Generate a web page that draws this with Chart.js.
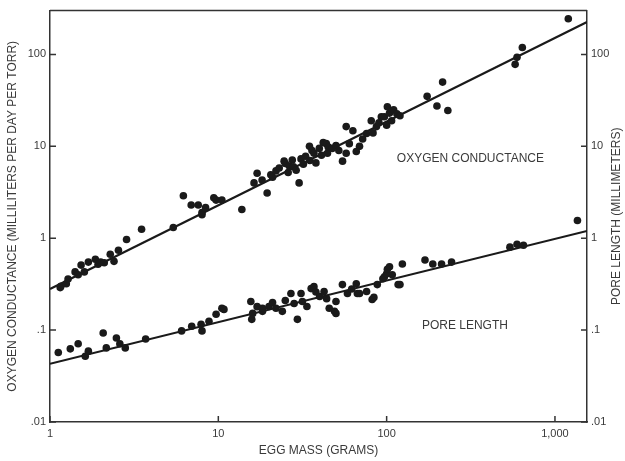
<!DOCTYPE html>
<html>
<head>
<meta charset="utf-8">
<script src="https://cdn.jsdelivr.net/npm/chart.js@4"></script>
<style>
  html, body { margin: 0; padding: 0; background: #fff; }
  #wrap { width: 625px; height: 461px; }
</style>
</head>
<body>
<div id="wrap"><canvas id="eggChart" width="625" height="461"></canvas></div>
<script>
// egg mass (g) vs oxygen conductance (ml / day / torr)
const massO2 = [1.15, 1.16, 1.25, 1.28, 1.41, 1.47, 1.53, 1.6, 1.69, 1.86, 1.93, 2.0, 2.1, 2.28, 2.4, 2.55, 2.85, 3.5,
  5.4, 6.2, 6.9, 7.6, 8.0, 8.4, 8.0, 9.4, 9.7, 10.5, 13.8, 16.3, 17, 18.2, 19.5, 20.5, 21, 22, 23, 24.6, 25, 26,
  26.4, 27.5, 28, 29, 30.2, 31, 32, 33, 34.8, 35, 36, 37, 38, 39.8, 41, 42, 43.8, 44.5, 45, 47.5, 50, 52, 54.7,
  57.5, 60, 57.5, 63, 69, 66, 72, 76, 81, 83, 87, 90, 93, 97, 100, 101, 104, 107, 110, 115, 120,
  174, 199, 215, 231, 580, 595, 640, 1200];
const o2 = [0.29, 0.30, 0.32, 0.36, 0.43, 0.40, 0.51, 0.43, 0.55, 0.59, 0.52, 0.55, 0.54, 0.67, 0.56, 0.74, 0.97, 1.25,
  1.31, 2.9, 2.3, 2.3, 1.9, 2.15, 1.8, 2.75, 2.6, 2.6, 2.05, 4.0, 5.1, 4.3, 3.1, 4.9, 4.6, 5.4, 5.8, 6.9, 6.5, 5.2,
  6.1, 7.1, 6.0, 5.5, 4.0, 7.3, 6.4, 7.8, 10, 7.0, 9.0, 8.4, 6.6, 9.5, 8.0, 11, 10.7, 8.4, 9.8, 9.5, 10.2, 9.0, 6.9,
  8.4, 10.7, 16.4, 14.8, 10, 8.8, 12, 13.8, 19, 14, 16.4, 18, 21, 21, 17, 27, 23, 19, 25, 22.6, 21.5,
  35, 27.5, 50, 24.5, 78, 93, 119, 245];

// egg mass (g) vs pore length (mm)
const massPore = [1.12, 1.32, 1.47, 1.62, 1.69, 2.07, 2.16, 2.48, 2.6, 2.8, 3.7, 6.05, 6.95, 7.9, 8.0, 8.8, 9.7, 10.5,
  10.8, 15.6, 15.8, 16, 17, 18.3, 18.3, 20, 21, 22, 24, 25, 27, 28.2, 29.5, 31, 31.6, 33.6, 35.6, 37, 38, 40, 42.5, 44, 45.6, 49, 50,
  50, 54.6, 58.5, 62, 66, 67, 69, 76, 82, 84, 88, 95, 97, 100, 101, 104, 108, 117, 120, 124,
  169, 188, 212, 243, 540, 595, 650, 1360];
const pore = [0.057, 0.0625, 0.071, 0.052, 0.059, 0.093, 0.064, 0.082, 0.071, 0.064, 0.08, 0.098, 0.11, 0.116, 0.098, 0.125, 0.149, 0.173,
  0.168, 0.205, 0.131, 0.152, 0.18, 0.16, 0.173, 0.181, 0.2, 0.173, 0.16, 0.21, 0.25, 0.195, 0.131, 0.25, 0.205, 0.181, 0.283, 0.297, 0.26, 0.232, 0.263, 0.22, 0.173, 0.16, 0.152,
  0.205, 0.313, 0.25, 0.28, 0.32, 0.25, 0.25, 0.263, 0.215, 0.227, 0.313, 0.362, 0.38, 0.41, 0.46, 0.49, 0.40, 0.313, 0.313, 0.525,
  0.58, 0.525, 0.525, 0.55, 0.80, 0.86, 0.84, 1.56];

// fitted lines, end points
const fitMass = [1, 1550];
const o2Fit = [0.28, 225];
const poreFit = [0.043, 1.2];

const yTicks = [0.01, 0.1, 1, 10, 100];
const yTickLabels = ['.01', '.1', '1', '10', '100'];
const xTicks = [1, 10, 100, 1000];
const xTickLabels = ['1', '10', '100', '1,000'];

const ink = '#1a1a1a';
const textGray = '#3a3a3a';
const fontFamily = '"Liberation Sans", Arial, sans-serif';

const toPts = (xs, ys) => xs.map((x, i) => ({ x: x, y: ys[i] }));

// inward tick marks, top frame line, right title and the two series labels
const decorPlugin = {
  id: 'decor',
  afterDatasetsDraw(chart) {
    const { ctx, chartArea: a, scales } = chart;
    ctx.save();
    ctx.strokeStyle = '#333';
    ctx.lineWidth = 1.5;
    ctx.beginPath();
    ctx.moveTo(a.left, a.top);
    ctx.lineTo(a.right, a.top);
    xTicks.forEach(v => {
      const px = scales.x.getPixelForValue(v);
      ctx.moveTo(px, a.bottom);
      ctx.lineTo(px, a.bottom - 6);
    });
    yTicks.forEach(v => {
      const py = scales.y.getPixelForValue(v);
      ctx.moveTo(a.left, py);
      ctx.lineTo(a.left + 6, py);
      const py2 = scales.y2.getPixelForValue(v);
      ctx.moveTo(a.right, py2);
      ctx.lineTo(a.right - 6, py2);
    });
    ctx.stroke();

    ctx.fillStyle = textGray;
    ctx.font = '12px ' + fontFamily;
    ctx.textBaseline = 'middle';
    ctx.textAlign = 'left';
    ctx.fillText('OXYGEN CONDUCTANCE', scales.x.getPixelForValue(115), scales.y.getPixelForValue(7.4));
    ctx.fillText('PORE LENGTH', scales.x.getPixelForValue(162), scales.y.getPixelForValue(0.113));

    ctx.translate(617, (a.top + a.bottom) / 2);
    ctx.rotate(-Math.PI / 2);
    ctx.textAlign = 'center';
    ctx.fillText('PORE LENGTH (MILLIMETERS)', 0, 0);
    ctx.restore();
  }
};

const decadeTicks = values => scale => {
  scale.ticks = values.map(v => ({ value: v }));
};

new Chart(document.getElementById('eggChart'), {
  type: 'scatter',
  data: {
    datasets: [
      {
        label: 'Oxygen conductance',
        data: toPts(massO2, o2),
        pointRadius: 3.8,
        pointBackgroundColor: ink,
        pointBorderWidth: 0
      },
      {
        label: 'Pore length',
        data: toPts(massPore, pore),
        yAxisID: 'y2',
        pointRadius: 3.8,
        pointBackgroundColor: ink,
        pointBorderWidth: 0
      },
      {
        type: 'line',
        label: 'Conductance fit',
        data: toPts(fitMass, o2Fit),
        borderColor: ink,
        borderWidth: 2.2,
        pointRadius: 0,
        fill: false
      },
      {
        type: 'line',
        label: 'Pore length fit',
        data: toPts(fitMass, poreFit),
        yAxisID: 'y2',
        borderColor: ink,
        borderWidth: 2.2,
        pointRadius: 0,
        fill: false
      }
    ]
  },
  options: {
    responsive: false,
    animation: false,
    layout: { padding: { top: 6, left: 0, right: 0, bottom: 0 } },
    plugins: {
      legend: { display: false },
      tooltip: { enabled: false }
    },
    scales: {
      x: {
        type: 'logarithmic',
        min: 1,
        max: 1550,
        afterBuildTicks: decadeTicks(xTicks),
        afterFit: s => { s.height = 39; },
        grid: { display: false, drawTicks: false },
        border: { display: true, color: '#333', width: 1.5 },
        ticks: {
          color: textGray,
          padding: 5,
          autoSkip: false,
          maxRotation: 0,
          font: { family: fontFamily, size: 11 },
          callback: v => xTickLabels[xTicks.indexOf(v)] ?? ''
        },
        title: {
          display: true,
          text: 'EGG MASS (GRAMS)',
          color: textGray,
          padding: { top: 0, bottom: 3 },
          font: { family: fontFamily, size: 12 }
        }
      },
      y: {
        type: 'logarithmic',
        position: 'left',
        min: 0.01,
        max: 300,
        afterBuildTicks: decadeTicks(yTicks),
        afterFit: s => { s.width = 50; },
        grid: { display: false, drawTicks: false },
        border: { display: true, color: '#333', width: 1.5 },
        ticks: {
          color: textGray,
          padding: 4,
          autoSkip: false,
          font: { family: fontFamily, size: 11 },
          callback: v => yTickLabels[yTicks.indexOf(v)] ?? ''
        },
        title: {
          display: true,
          text: 'OXYGEN CONDUCTANCE (MILLILITERS PER DAY PER TORR)',
          color: textGray,
          padding: { top: 5, bottom: 0 },
          font: { family: fontFamily, size: 12 }
        }
      },
      y2: {
        type: 'logarithmic',
        position: 'right',
        min: 0.01,
        max: 300,
        afterBuildTicks: decadeTicks(yTicks),
        afterFit: s => { s.width = 38; },
        grid: { display: false, drawTicks: false },
        border: { display: true, color: '#333', width: 1.5 },
        ticks: {
          color: textGray,
          padding: 4,
          autoSkip: false,
          font: { family: fontFamily, size: 11 },
          callback: v => yTickLabels[yTicks.indexOf(v)] ?? ''
        }
      }
    }
  },
  plugins: [decorPlugin]
});
</script>
</body>
</html>
